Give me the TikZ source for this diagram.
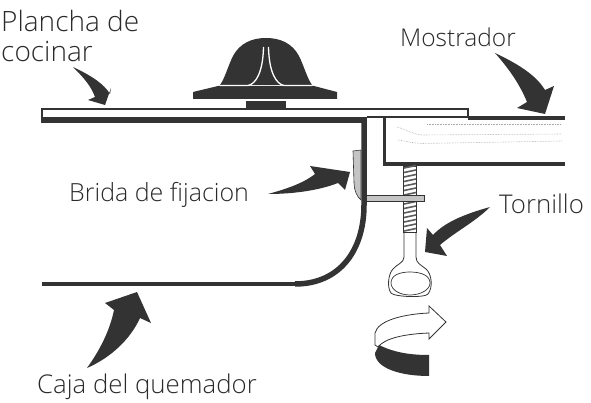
\documentclass[tikz,border=0pt]{standalone}
\usepackage{fontspec}
\setmainfont{Open Sans Light}
\definecolor{ink}{HTML}{333333}
\definecolor{halfgray}{HTML}{C4C4C4}
\definecolor{txt}{HTML}{2A2A2A}
\tikzset{
  pointer/.style={fill=ink,draw=none},
  lbl/.style={anchor=base west,inner sep=0pt,text=txt,font=\fontsize{25}{27}\selectfont},
  lblmid/.style={lbl,font=\fontsize{25.8}{28}\selectfont},
  lblbig/.style={lbl,font=\fontsize{28}{30}\selectfont},
  lblsmall/.style={lbl,font=\fontsize{24.5}{26}\selectfont},
  band/.style={fill=ink,draw=none},
  thinline/.style={draw=ink,line width=0.8pt,fill=white},
  dots/.style={draw=gray!70,line width=0.6pt,densely dotted}
}
\begin{document}
\begin{tikzpicture}[x=1pt,y=-1pt]
\useasboundingbox (0,0) rectangle (591,403);
% labels
\node[lblbig] (plancha) at (1,32) {Plancha de};
\node[lblbig] (cocinar) at (1,62) {cocinar};
\node[lblsmall] (mostrador) at (400,47) {Mostrador};
\node[lbl] (brida) at (69,202) {Brida de fijacion};
\node[lblmid] (tornillo) at (499,214) {Tornillo};
\node[lblmid] (caja) at (37,393) {Caja del quemador};
% pointers
\path[pointer] (73,67) .. controls (92,76) and (104,84) .. (110,94) -- (111,88) -- (105,105) -- (88,100) -- (95,97) .. controls (91,86) and (84,78) .. (73,67) -- cycle;
\path[pointer] (495,53) .. controls (518,64) and (536,75) .. (545,90) -- (554,86) -- (545,114) -- (517,108) -- (527,102) .. controls (520,85) and (510,70) .. (495,53) -- cycle;
\path[pointer] (268,194) .. controls (290,188) and (305,182) .. (315,174) -- (310,166) -- (350,172) -- (345,190) -- (338,183) .. controls (320,190) and (295,194) .. (268,194) -- cycle;
\path[pointer] (490,207) .. controls (465,214) and (445,222) .. (433,235) -- (427,228) -- (425,252) -- (447,256) -- (440,245) .. controls (455,232) and (475,222) .. (490,207) -- cycle;
\path[pointer] (87,368) .. controls (100,350) and (110,330) .. (114,310) -- (105,303) -- (137,292) -- (151,323) -- (140,318) .. controls (130,340) and (110,358) .. (87,368) -- cycle;
% plate
\draw[draw=ink,line width=2pt] (468,117) -- (468,109) -- (42,109) -- (42,118);
\path[band] (41,117) rectangle (367,123);
\path[band] (367,116) rectangle (468,118.5);
% counter
\path[band] (468,116) rectangle (565,120);
\path[band] (383,116) rectangle (386,166);
\path[band] (383,162) rectangle (565,166);
\draw[dots] (427,124) -- (560,124);
\draw[dots] (397,127) .. controls (405,129) and (412,134) .. (422,135) -- (562,134);
\draw[dots] (398,140) .. controls (405,141) and (412,143) .. (422,143.5) -- (562,141);
% burner wall
\draw[draw=ink,line width=5.5pt] (364,118) -- (364,205) .. controls (364,250) and (340,284) .. (295,284);
\draw[draw=ink,line width=4pt] (296,284) -- (42,284);
% screw
\draw[thinline] (404,232) -- (404,257) .. controls (404,263) and (397,264) .. (393,269) .. controls (388,274) and (387,288) .. (391,293) .. controls (394,297) and (425,298) .. (428,294) .. controls (433,288) and (432,274) .. (426,269) .. controls (421,265) and (416,263) .. (416,257) -- (416,232);
\draw[draw=ink,line width=0.7pt] (391,283) .. controls (391,275) and (400,272) .. (410,272) .. controls (422,272) and (430,276) .. (430,283) .. controls (430,290) and (420,295) .. (410,295) .. controls (400,295) and (391,290) .. (391,283) -- cycle;
\path[fill=white,draw=ink,line width=0.8pt] (403.5,166) rectangle (416.5,232);
\foreach \yy in {168,172.5,...,232}{
  \draw[draw=ink!80,line width=1.6pt] (404,\yy) -- (416,\yy-2.5);
}
% clamp
\path[fill=halfgray,draw=ink,line width=0.6pt] (366,195) rectangle (424,201);
\path[fill=halfgray,draw=ink,line width=0.6pt] (353,151) -- (361,150) -- (361,200) .. controls (357,197) and (354,190) .. (354,183) -- cycle;
% knob
\path[band] (220,85) .. controls (225,78) and (228,66) .. (233,56) .. controls (240,43) and (252,38) .. (266,38) .. controls (280,38) and (292,43) .. (299,56) .. controls (304,66) and (307,78) .. (312,85) -- cycle;
\path[band] (218,86) -- (314,86) -- (337,92) -- (337,99) -- (193,99) -- (193,92) -- cycle;
\draw[draw=white,line width=1.3pt] (220,85.5) -- (248,85.5) .. controls (256,84) and (263,72) .. (263.5,47);
\draw[draw=white,line width=1.3pt] (312,85.5) -- (284,85.5) .. controls (276,84) and (269,72) .. (268.5,47);
\path[band] (246,101) rectangle (286,108);
% rotation arrow
\path[fill=white,draw=ink,line width=0.8pt] (375,345) -- (375,333) .. controls (378,320) and (405,314) .. (429,313) -- (429,306) -- (446,322) -- (429,339) -- (429,333) .. controls (405,334) and (385,338) .. (378,347) -- cycle;
\path[band] (379,345) .. controls (395,353) and (412,355) .. (429,355) -- (429,376) .. controls (400,376) and (375,368) .. (375,353) -- cycle;
\end{tikzpicture}
\end{document}
